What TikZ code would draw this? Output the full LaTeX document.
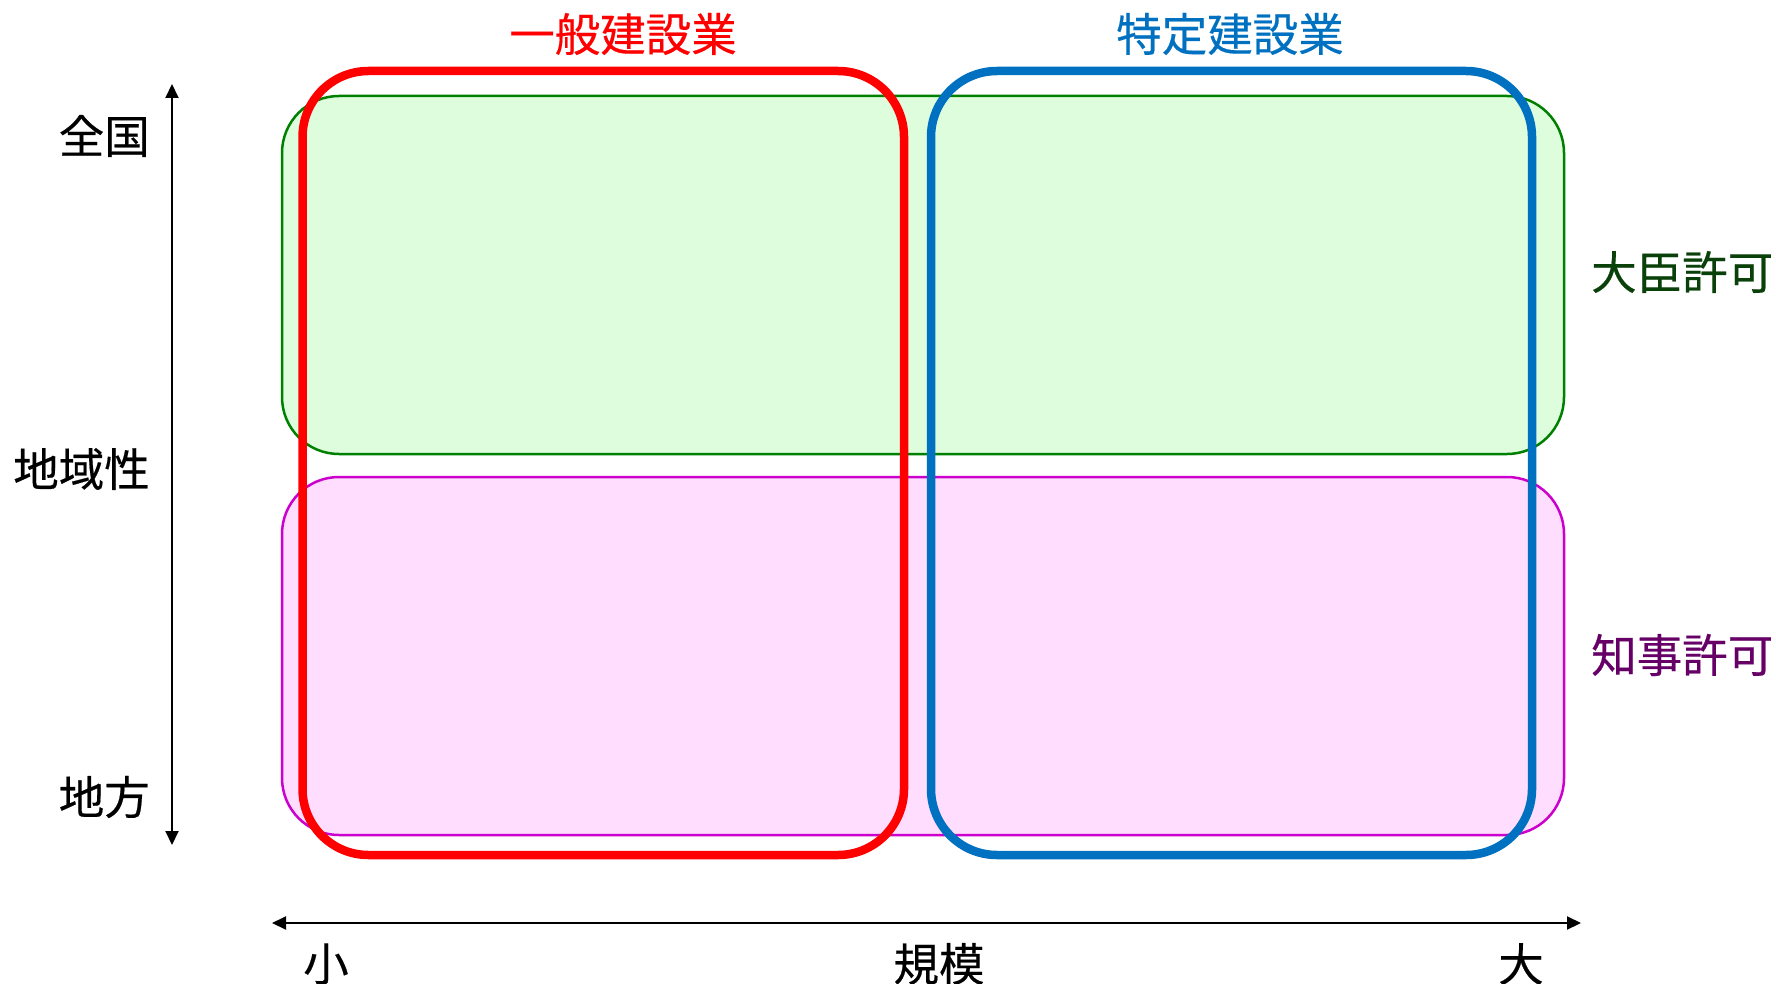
\documentclass[tikz,border=0pt]{standalone}
\usepackage{fontspec}
\newfontfamily\jp[FakeBold=0.4]{Noto Sans CJK JP}
\usetikzlibrary{arrows.meta}
\definecolor{redc}{RGB}{255,0,0}
\definecolor{bluec}{RGB}{0,112,192}
\definecolor{greenline}{RGB}{0,128,0}
\definecolor{greenfill}{RGB}{221,253,221}
\definecolor{magline}{RGB}{204,0,204}
\definecolor{magfill}{RGB}{255,221,255}
\definecolor{dgreen}{RGB}{10,64,10}
\definecolor{dpurple}{RGB}{102,0,102}
\tikzset{
  lbl/.style={font=\jp\fontsize{45.5}{48}\selectfont, inner sep=0pt},
  region/.style={line width=2.5pt, rounded corners=57pt},
  group/.style={line width=8.5pt, rounded corners=66pt},
  axis/.style={line width=2pt, {Triangle[length=14pt,width=13pt]}-{Triangle[length=14pt,width=13pt]}}
}
\begin{document}
\begin{tikzpicture}[x=1pt,y=-1pt]
\useasboundingbox (0,0) rectangle (1776,984);
% regions
\draw[region, draw=greenline, fill=greenfill] (282,96) rectangle (1564,454);
\draw[region, draw=magline, fill=magfill] (282,477) rectangle (1564,835);
% groups
\draw[group, draw=redc] (302.5,71) rectangle (904,855);
\draw[group, draw=bluec] (931,71) rectangle (1532,855);
% titles
\node[lbl, text=redc] (gen) at (623,34) {一般建設業};
\node[lbl, text=bluec] (spec) at (1230,34) {特定建設業};
\node[lbl, text=dgreen, anchor=west] (daijin) at (1591,272) {大臣許可};
\node[lbl, text=dpurple, anchor=west] (chiji) at (1591,655) {知事許可};
% vertical axis
\coordinate (vtop) at (172,84);
\coordinate (vbot) at (172,845);
\draw[axis] (vtop) -- (vbot);
\node[lbl, anchor=east] (zenkoku) at (150,136) {全国};
\node[lbl, anchor=east] (chiiki) at (150,469) {地域性};
\node[lbl, anchor=east] (chihou) at (150,797) {地方};
% horizontal axis
\coordinate (hl) at (272,923);
\coordinate (hr) at (1581,923);
\draw[axis] (hl) -- (hr);
\node[lbl] (sho) at (326,964) {小};
\node[lbl] (kibo) at (939,964) {規模};
\node[lbl] (dai) at (1521,964) {大};
\end{tikzpicture}
\end{document}
